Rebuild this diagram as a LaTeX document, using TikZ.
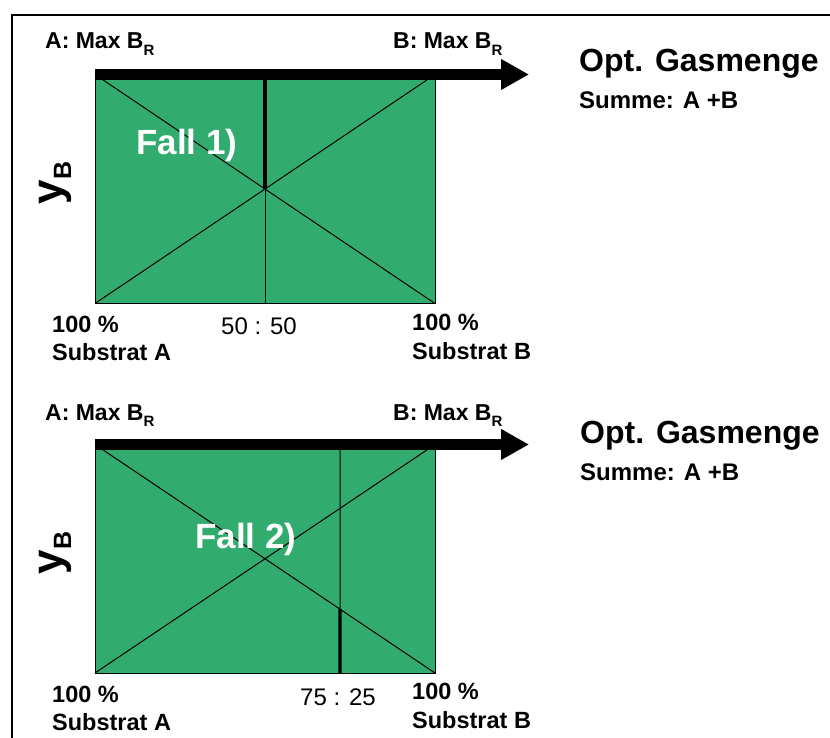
\documentclass[tikz,border=0pt]{standalone}
\usepackage{fontspec}
\setmainfont{Liberation Sans}
\usepackage{xcolor}
\definecolor{gasgreen}{HTML}{32AB6E}
\usetikzlibrary{arrows.meta,calc}
\newcommand{\subR}{\raisebox{-0.27em}{\fontsize{15}{15}\selectfont\bfseries R}}
\newcommand{\subB}{\raisebox{-0.21em}{\fontsize{25}{25}\selectfont\bfseries B}}
\tikzset{
  field/.style={fill=gasgreen,draw=black,line width=1pt},
  cross/.style={draw=black,line width=1pt},
  ratio/.style={draw=black,line width=3.2pt},
  axisbar/.style={-{Triangle[length=28pt,width=29pt]},line width=11pt},
  maxlbl/.style={anchor=base west,inner sep=0pt,font=\fontsize{23}{25}\selectfont\bfseries},
  optlbl/.style={anchor=base west,inner sep=0pt,font=\fontsize{32}{35}\selectfont\bfseries},
  sumlbl/.style={anchor=base west,inner sep=0pt,font=\fontsize{24}{26}\selectfont\bfseries},
  falllbl/.style={anchor=base west,inner sep=0pt,text=white,font=\fontsize{35}{38}\selectfont\bfseries},
  axlbl/.style={anchor=base,inner sep=0pt,rotate=90,font=\fontsize{44}{46}\selectfont\bfseries},
  pctlbl/.style={anchor=base west,inner sep=0pt,font=\fontsize{23.5}{25}\selectfont\bfseries},
  mixlbl/.style={anchor=base,inner sep=0pt,font=\fontsize{24}{26}\selectfont},
}
\begin{document}
\begin{tikzpicture}[x=1pt,y=-1pt]
  \useasboundingbox (0,0) rectangle (830,738);
  \draw[line width=2pt] (12,738) -- (12,15) -- (830,15);

  % ---- Fall 1 ----
  \coordinate (tl1) at (95,74.5);
  \coordinate (tr1) at (435,74.5);
  \coordinate (bl1) at (95,303.5);
  \coordinate (br1) at (435,303.5);
  \coordinate (tip1) at (529,74.5);
  \coordinate (mt1) at (265,74.5);
  \coordinate (mb1) at (265,303.5);
  \coordinate (mc1) at ($(tl1)!0.5!(br1)$);
  \fill[field] (tl1) rectangle (br1);
  \draw[cross] (tl1) -- (br1) (bl1) -- (tr1);
  \draw[cross] (mc1) -- (mb1);
  \draw[ratio] (mt1) -- (mc1);
  \draw[axisbar] (tl1) -- (tip1);
  \node[maxlbl] (maxA1) at (45,49) {A: Max B\subR};
  \node[maxlbl] (maxB1) at (393,49) {B: Max B\subR};
  \node[optlbl] (opt1) at (579,72) {Opt. Gasmenge};
  \node[sumlbl] (sum1) at (579,109) {Summe: A +B};
  \node[falllbl] (fall1) at (136,155) {Fall 1)};
  \node[axlbl] (yb1) at (62,183) {y\subB};
  \node[pctlbl] (pctA1) at (52,332) {100 \%};
  \node[pctlbl] (subA1) at (52,360) {Substrat A};
  \node[mixlbl] (mix1) at (259,334) {50 : 50};
  \node[pctlbl] (pctB1) at (412,330) {100 \%};
  \node[pctlbl] (subB1) at (412,359) {Substrat B};

  % ---- Fall 2 ----
  \coordinate (tl2) at (95,444.5);
  \coordinate (tr2) at (435,444.5);
  \coordinate (bl2) at (95,673);
  \coordinate (br2) at (435,673);
  \coordinate (tip2) at (529,444.5);
  \coordinate (mt2) at (340,444.5);
  \coordinate (mb2) at (340,673);
  \coordinate (mc2) at ($(tl2)!0.7206!(br2)$);
  \fill[field] (tl2) rectangle (br2);
  \draw[cross] (tl2) -- (br2) (bl2) -- (tr2);
  \draw[cross] (mt2) -- (mc2);
  \draw[ratio] (mc2) -- (mb2);
  \draw[axisbar] (tl2) -- (tip2);
  \node[maxlbl] (maxA2) at (45,420) {A: Max B\subR};
  \node[maxlbl] (maxB2) at (393,420) {B: Max B\subR};
  \node[optlbl] (opt2) at (580,443) {Opt. Gasmenge};
  \node[sumlbl] (sum2) at (580,480) {Summe: A +B};
  \node[falllbl] (fall2) at (195,548) {Fall 2)};
  \node[axlbl] (yb2) at (62,553) {y\subB};
  \node[pctlbl] (pctA2) at (52,702) {100 \%};
  \node[pctlbl] (subA2) at (52,730) {Substrat A};
  \node[mixlbl] (mix2) at (338,705) {75 : 25};
  \node[pctlbl] (pctB2) at (412,699) {100 \%};
  \node[pctlbl] (subB2) at (412,728) {Substrat B};
\end{tikzpicture}
\end{document}
